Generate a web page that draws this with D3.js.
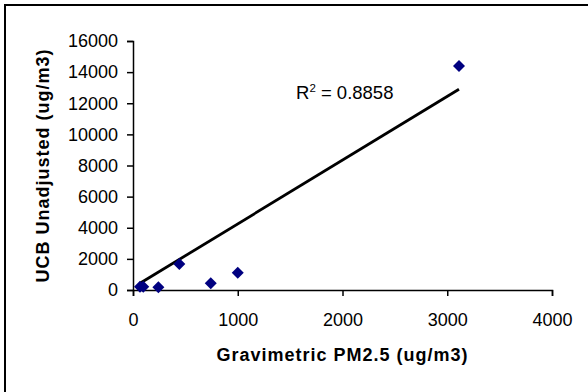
<!DOCTYPE html>
<html>
<head>
<meta charset="utf-8">
<script src="https://cdn.jsdelivr.net/npm/d3@7"></script>
<style>
  body { margin: 0; background: #fff; }
  svg { display: block; font-family: Arial, "Liberation Sans", sans-serif; }
</style>
</head>
<body>
<div id="chart"></div>
<script>
// data
const gravimetric = [67, 98, 242, 442, 742, 1000, 3112];
const ucbUnadjusted = [212, 212, 173, 1670, 430, 1112, 14394];
// linear trendline end points as drawn
const trendX = [67, 3112];
const trendY = [430, 12896];
const xTicks = [0, 1000, 2000, 3000, 4000];
const yTicks = [0, 2000, 4000, 6000, 8000, 10000, 12000, 14000, 16000];
const rSquared = '0.8858';

const W = 588, H = 392;
const margin = { left: 133, right: 36, top: 41, bottom: 102 };

const svg = d3.select('#chart').append('svg')
  .attr('width', W)
  .attr('height', H);

// chart area frame (only top/left edges fall inside the picture)
svg.append('rect')
  .attr('x', 5).attr('y', 5)
  .attr('width', W + 20).attr('height', H + 20)
  .attr('fill', '#fff')
  .attr('stroke', '#000')
  .attr('stroke-width', 2);

const x = d3.scaleLinear().domain([0, 4000]).range([margin.left, W - margin.right]);
const y = d3.scaleLinear().domain([0, 16000]).range([H - margin.bottom, margin.top]);

const xAxis = d3.axisBottom(x).tickValues(xTicks).tickSize(6).tickPadding(17).tickFormat(d3.format('d'));
const yAxis = d3.axisLeft(y).tickValues(yTicks).tickSize(6).tickPadding(9).tickFormat(d3.format('d'));

const gx = svg.append('g')
  .attr('transform', 'translate(0,' + y(0) + ')')
  .call(xAxis);
const gy = svg.append('g')
  .attr('transform', 'translate(' + x(0) + ',0)')
  .call(yAxis);

[gx, gy].forEach(g => {
  g.select('.domain').attr('stroke', '#000').attr('stroke-width', 1.5);
  g.selectAll('.tick line').attr('stroke', '#000').attr('stroke-width', 1.5);
  g.selectAll('.tick text')
    .attr('fill', '#000')
    .style('font-size', '18px')
    .style('font-family', 'Arial, "Liberation Sans", sans-serif');
});

// trendline
svg.append('line')
  .attr('x1', x(trendX[0])).attr('y1', y(trendY[0]))
  .attr('x2', x(trendX[1])).attr('y2', y(trendY[1]))
  .attr('stroke', '#000')
  .attr('stroke-width', 2.8);

// diamond markers
const r = 6;
const diamond = 'M0,' + (-r) + 'L' + r + ',0L0,' + r + 'L' + (-r) + ',0Z';
svg.append('g').selectAll('path')
  .data(gravimetric.map((g, i) => [g, ucbUnadjusted[i]]))
  .join('path')
  .attr('d', diamond)
  .attr('transform', d => 'translate(' + x(d[0]) + ',' + y(d[1]) + ')')
  .attr('fill', '#000080');

// R^2 label
const rLabel = svg.append('text')
  .attr('x', 296).attr('y', 99)
  .style('font-size', '18.5px')
  .attr('fill', '#000');
rLabel.append('tspan').text('R');
rLabel.append('tspan').attr('dy', -7).style('font-size', '11.5px').text('2');
rLabel.append('tspan').attr('dy', 7).text(' = ' + rSquared);

// axis titles
svg.append('text')
  .attr('x', (x(0) + x(4000)) / 2).attr('y', 361)
  .attr('text-anchor', 'middle')
  .style('font-size', '18px')
  .style('font-weight', 'bold')
  .style('letter-spacing', '1px')
  .text('Gravimetric PM2.5 (ug/m3)');

svg.append('text')
  .attr('transform', 'translate(49,' + (y(0) + y(16000)) / 2 + ') rotate(-90)')
  .attr('text-anchor', 'middle')
  .style('font-size', '18px')
  .style('font-weight', 'bold')
  .style('letter-spacing', '1px')
  .text('UCB Unadjusted (ug/m3)');
</script>
</body>
</html>
